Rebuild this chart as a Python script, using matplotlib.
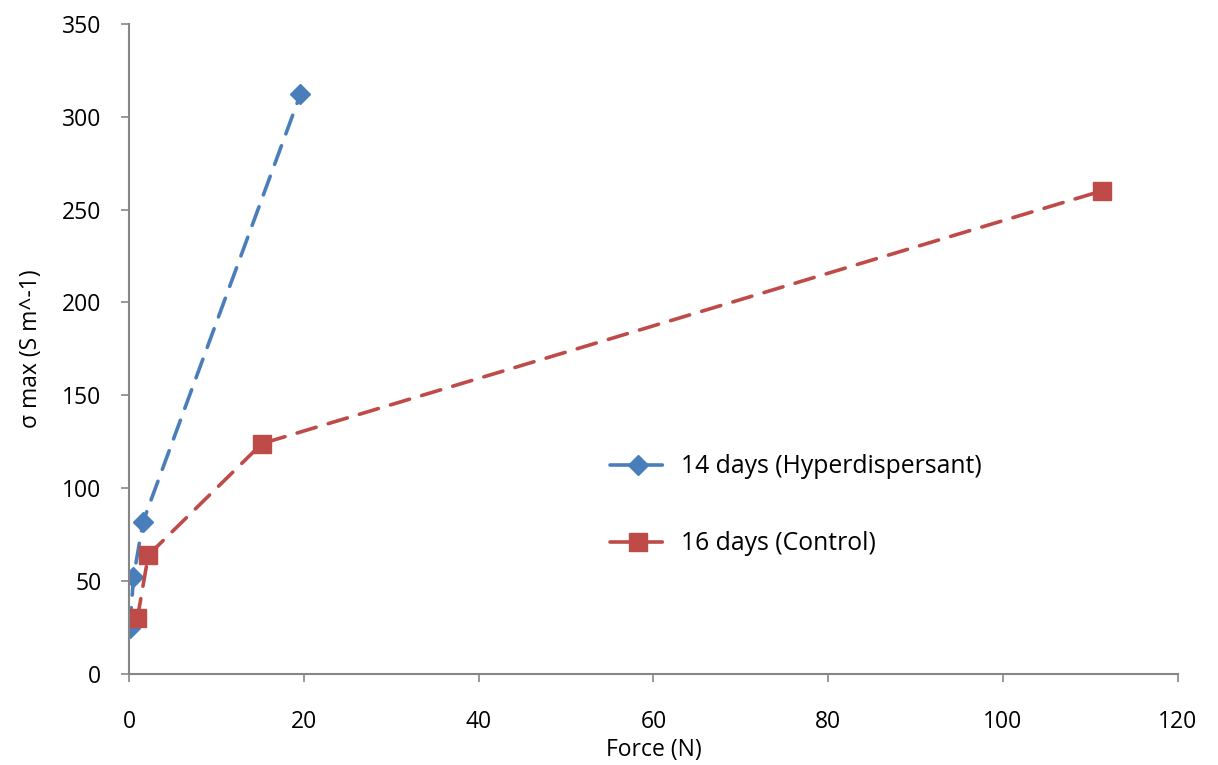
import matplotlib
matplotlib.use("Agg")
import matplotlib.pyplot as plt

plt.rcParams['font.family'] = ['Open Sans', 'DejaVu Sans']

hyper_force = [0.1, 0.5, 1.6, 19.6]
hyper_sigma = [25, 52, 82, 312]
ctrl_force = [0.95, 2.2, 15.2, 111.3]
ctrl_sigma = [30, 64, 124, 260]

x_ticks = [0, 20, 40, 60, 80, 100, 120]
y_ticks = [0, 50, 100, 150, 200, 250, 300, 350]

blue = '#4a7ebb'
red = '#be4b48'
gray = '#868686'

fig = plt.figure(figsize=(12.18, 7.65), dpi=100)
ax = fig.add_axes([0.106, 0.119, 0.861, 0.850])

ax.plot(hyper_force, hyper_sigma, color=blue, lw=2.6, ls=(0, (5.5, 3.5)),
        marker='D', ms=10, mfc=blue, mec=blue, label='14 days (Hyperdispersant)', dash_capstyle='round')
ax.plot(ctrl_force, ctrl_sigma, color=red, lw=2.6, ls=(0, (5.5, 3.5)),
        marker='s', ms=13, mfc=red, mec=red, label='16 days (Control)', dash_capstyle='round')

ax.set_xlim(0, 120)
ax.set_ylim(0, 350)
ax.set_xticks(x_ticks)
ax.set_yticks(y_ticks)
for s in ['top', 'right']:
    ax.spines[s].set_visible(False)
for s in ['left', 'bottom']:
    ax.spines[s].set_color(gray)
    ax.spines[s].set_linewidth(1.5)
ax.tick_params(axis='both', colors=gray, direction='out', length=6, width=1.2, labelsize=16.5, labelcolor='black')
ax.tick_params(axis='x', pad=20)
ax.tick_params(axis='y', pad=14)
ax.set_xlabel('Force (N)', fontsize=16.5, labelpad=3)
ax.set_ylabel('σ max (S m^-1)', fontsize=16.5, labelpad=14)

leg = ax.legend(loc='upper left', bbox_to_anchor=(0.437, 0.372), frameon=False, fontsize=17.8,
                labelspacing=2.1, handlelength=2.3, handletextpad=0.6)

fig.savefig('out.png', dpi=100)
